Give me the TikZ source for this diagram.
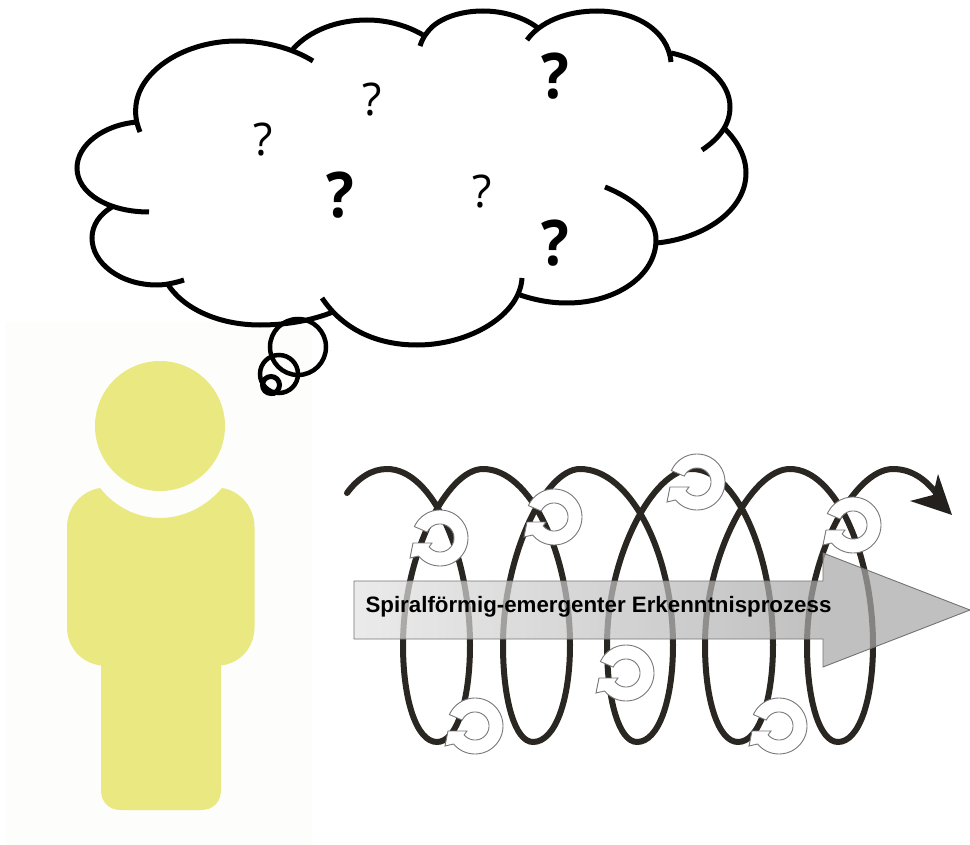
\documentclass[tikz,border=0pt]{standalone}
\usepackage{fontspec}
\setmainfont{Liberation Sans}
\newfontfamily\qfont{Open Sans}
\definecolor{figcol}{HTML}{E9E881}
\definecolor{panelcol}{HTML}{FDFDFB}
\definecolor{spiralcol}{HTML}{2A2622}
\definecolor{ringline}{HTML}{777777}
\pgfdeclarehorizontalshading{arrowsh}{100bp}{color(0bp)=(black!11);color(25bp)=(black!11);color(63bp)=(black!34);color(75bp)=(black!34);color(100bp)=(black!34)}
\tikzset{
  cloudline/.style={line width=5pt,black,line cap=butt},
  bubble/.style={line width=4.5pt,black},
  coil/.style={line width=6pt,spiralcol,line cap=round,line join=round},
  ring/.style={fill=white,draw=ringline,line width=0.9pt,line join=miter},
  thinq/.style={inner sep=0pt,font=\qfont\fontsize{45}{45}\selectfont},
  boldq/.style={inner sep=0pt,xscale=0.92,font=\qfont\bfseries\fontsize{63}{63}\selectfont},
}
\newcommand{\cyc}[2]{%
  \begin{scope}[shift={(#1,#2)}]
    \draw[ring]
      plot[domain=204:500,samples=60,variable=\t] ({28*cos(\t)},{28*sin(\t)})
      -- (-30,20) -- (-27,5) -- (-8,5)
      -- plot[domain=500.7:204.8,samples=60,variable=\t] ({14*cos(\t)},{14*sin(\t)})
      -- cycle;
  \end{scope}}
\newcommand{\coilseg}[5]{% top, right, bottom, left, next top
  .. controls ({#1+0.55*(#2-#1)},469) and (#2,{555}) .. (#2,645)
  .. controls (#2,700) and ({#3+0.6*(#2-#3)},742) .. (#3,742)
  .. controls ({#3-0.6*(#3-#4)},742) and (#4,700) .. (#4,645)
  .. controls (#4,555) and ({#5-0.45*(#5-#4)},469) .. (#5,469)}
\begin{document}
\begin{tikzpicture}[x=1pt,y=-1pt]
\useasboundingbox (0,0) rectangle (970,845);
\fill[panelcol] (5,322) rectangle (312,845);
% person
\fill[figcol] (160,426) circle[radius=65];
\fill[figcol] (100,488) .. controls (115,507) and (137,518) .. (160,518)
  .. controls (183,518) and (206,507) .. (222,488)
  .. controls (241,491) and (254.5,508) .. (254.5,527)
  -- (254.5,627) .. controls (254.5,647) and (241,663) .. (221,665.5)
  -- (221,790) .. controls (221,802) and (213,810) .. (201,810)
  -- (121,810) .. controls (109,810) and (101,802) .. (101,790)
  -- (101,665.5) .. controls (81,663) and (67,647) .. (67,627)
  -- (67,527) .. controls (67,508) and (81,491) .. (100,488) -- cycle;
% cloud
\draw[cloudline] (140,132) .. controls (136,122) and (135,115) .. (136,105) .. controls (140,70) and (185,41) .. (237,41) .. controls (265,41) and (292,48) .. (313,61);
\draw[cloudline] (293,49) .. controls (310,30) and (338,20) .. (367,20) .. controls (388,20) and (408,26) .. (423,35);
\draw[cloudline] (420,46) .. controls (423,37) and (427,32) .. (432,27) .. controls (443,17) and (462,11) .. (483,11) .. controls (505,11) and (525,18) .. (538,28);
\draw[cloudline] (527,40) .. controls (540,22) and (566,11) .. (597,11) .. controls (635,11) and (668,30) .. (671,62);
\draw[cloudline] (671,53) .. controls (705,60) and (730,82) .. (730,107) .. controls (730,124) and (720,138) .. (702,150);
\draw[cloudline] (725,129) .. controls (738,142) and (746,157) .. (746,173) .. controls (746,210) and (705,238) .. (657,243);
\draw[cloudline] (605,187) .. controls (635,199) and (656,218) .. (656,240) .. controls (656,275) and (617,303) .. (567,303) .. controls (550,303) and (535,300) .. (520,295);
\draw[cloudline] (522,278) .. controls (520,315) and (470,345) .. (417,345) .. controls (375,345) and (342,328) .. (322,298);
\draw[cloudline] (333,312) .. controls (310,321) and (285,325) .. (260,325) .. controls (218,325) and (182,308) .. (167,283);
\draw[cloudline] (184,280) .. controls (175,283) and (165,285) .. (157,285) .. controls (120,285) and (92,263) .. (92,238) .. controls (92,225) and (100,214) .. (112,207);
\draw[cloudline] (149,212) .. controls (108,212) and (77,193) .. (77,168) .. controls (77,145) and (103,125) .. (137,122);
\draw[bubble] (298,347) circle[radius=28];
\draw[bubble] (279,374) circle[radius=19];
\draw[line width=5pt,black] (271,385) circle[radius=8.5];
\draw[line width=4pt,black,line cap=round] (263,380) .. controls (262,388) and (266,394) .. (274,394);
% question marks
\node[thinq] (q1) at (263,140) {?};
\node[thinq] (q2) at (372,100) {?};
\node[thinq] (q3) at (482,192) {?};
\node[boldq] (q4) at (340,195) {?};
\node[boldq] (q5) at (555,76) {?};
\node[boldq] (q6) at (555,243) {?};
% spiral
\draw[coil] (347,493) .. controls (358,478) and (372,469) .. (387,469)
 \coilseg{387}{470}{437}{403}{483}
 \coilseg{483}{570}{533}{503}{580}
 \coilseg{580}{673}{637}{607}{692}
 \coilseg{692}{773}{738}{705}{790}
 \coilseg{790}{873}{838}{807}{893}
 .. controls (912,469) and (928,480) .. (941,500);
\fill[spiralcol!85!black] (938,474) -- (952,515) -- (910,501) -- (933,495) -- cycle;
% big arrow
\shade[shading=arrowsh,fill opacity=0.72]
  (354,581) -- (823,581) -- (823,553) -- (970,610) -- (823,667) -- (823,639) -- (354,639) -- cycle;
\draw[black!55,line width=0.9pt,line join=miter]
  (354,581) -- (823,581) -- (823,553) -- (970,610) -- (823,667) -- (823,639) -- (354,639) -- cycle;
% circular arrows
\cyc{440}{538}
\cyc{554}{517}
\cyc{626}{673}
\cyc{475}{726}
\cyc{697}{482}
\cyc{853}{525}
\cyc{779}{726}
% label
\node[inner sep=0pt,font=\bfseries\fontsize{22.3}{22.3}\selectfont,text=black] (lbl) at (598.5,607) {Spiralförmig-emergenter Erkenntnisprozess};
\end{tikzpicture}
\end{document}
